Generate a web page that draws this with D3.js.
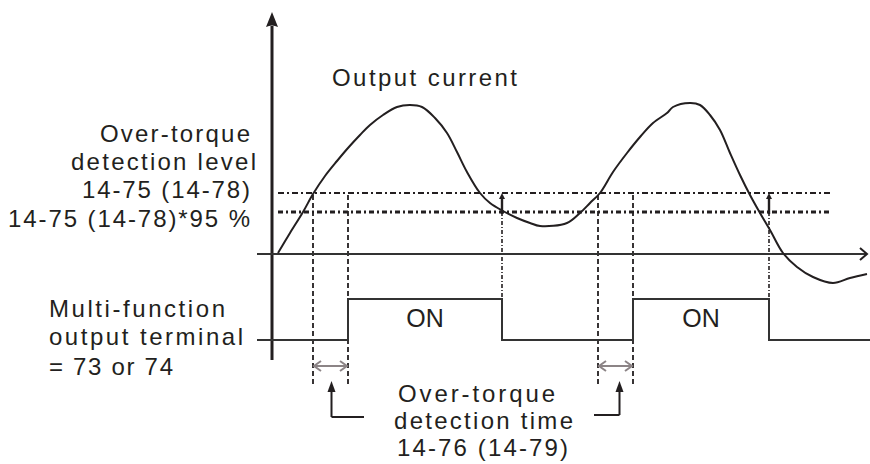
<!DOCTYPE html>
<html>
<head>
<meta charset="utf-8">
<script src="https://cdn.jsdelivr.net/npm/d3@7"></script>
<style>
  html, body { margin: 0; padding: 0; background: #fff; }
  svg { display: block; }
  text { font-family: "Liberation Sans", Arial, sans-serif; fill: #231f20; }
</style>
</head>
<body>
<svg id="chart" width="870" height="464"></svg>
<script>
// ---- data (time units from the vertical axis, current units above the zero line) ----
const curveTime    = [6, 18, 31, 41, 53, 65, 76, 88, 98, 111, 125, 138, 150, 163, 175, 185, 195, 208, 218, 231, 245, 258, 268, 295, 308, 318, 328, 341, 355, 368, 381, 395, 401, 418, 428, 438, 448, 458, 468, 478, 488, 498, 511, 525, 541, 561, 578, 595];
const curveCurrent = [1, 21, 42, 60, 78, 93, 106, 119, 129, 139, 147, 149, 147, 136, 121, 102, 82, 61, 51, 43, 36, 31, 28, 31, 41, 51, 61, 82, 101, 117, 131, 141, 147, 151, 149, 139, 124, 101, 79, 59, 41, 24, 1, -13, -23, -29, -24, -20];
const levelValues  = [61, 42];          // detection level, detection level * 95 %
const detectStart  = [41, 326];         // current crosses the detection level
const pulseStart   = [76, 361];         // output ON after detection time
const pulseEnd     = [230, 497];        // output OFF when current falls below 95 %
const pulseLabel   = ["ON", "ON"];
const titleLabel   = "Output current";
const levelLines   = ["Over-torque", "detection level", "14-75 (14-78)", "14-75 (14-78)*95 %"];
const terminalLines= ["Multi-function", "output terminal", "= 73 or 74"];
const timeLines    = ["Over-torque", "detection time", "14-76 (14-79)"];

// ---- scales ----
const x  = d3.scaleLinear().domain([0, 600]).range([272, 872]);
const yI = d3.scaleLinear().domain([0, 240]).range([254, 14]);
const yS = d3.scaleLinear().domain([0, 1]).range([340, 299]);

const svg = d3.select("#chart");
const ink = "#231f20";

// ---- level lines ----
const levelStyles = [{w: 2, dash: "6,3,2,3"}, {w: 3, dash: "5,3,2,3"}];
levelValues.forEach((v, i) => {
  svg.append("line")
    .attr("x1", x(6)).attr("x2", x(558))
    .attr("y1", yI(v)).attr("y2", yI(v))
    .attr("stroke", ink).attr("stroke-width", levelStyles[i].w)
    .attr("stroke-dasharray", levelStyles[i].dash);
});

// ---- detection-time dashed verticals ----
detectStart.forEach((t, i) => {
  [t, pulseStart[i]].forEach(tt => {
    svg.append("line")
      .attr("x1", x(tt)).attr("x2", x(tt))
      .attr("y1", yI(levelValues[0]) + 2).attr("y2", 385)
      .attr("stroke", ink).attr("stroke-width", 1.8)
      .attr("stroke-dasharray", "5,3");
  });
});

// ---- release verticals (dash-dot) with small arrows between the levels ----
pulseEnd.forEach(t => {
  svg.append("line")
    .attr("x1", x(t)).attr("x2", x(t))
    .attr("y1", yI(levelValues[1])).attr("y2", yS(1))
    .attr("stroke", ink).attr("stroke-width", 1.6)
    .attr("stroke-dasharray", "4,2,1,2");
  svg.append("line")
    .attr("x1", x(t)).attr("x2", x(t))
    .attr("y1", yI(levelValues[1]) + 2).attr("y2", yI(levelValues[0]) + 5)
    .attr("stroke", ink).attr("stroke-width", 2.4);
  svg.append("path")
    .attr("d", `M${x(t) - 3},${yI(levelValues[0]) + 6} L${x(t)},${yI(levelValues[0])} L${x(t) + 3},${yI(levelValues[0]) + 6} Z`)
    .attr("fill", ink);
});

// ---- axes ----
svg.append("line")
  .attr("x1", x(0)).attr("x2", x(0))
  .attr("y1", yI(228)).attr("y2", 360)
  .attr("stroke", ink).attr("stroke-width", 3);
svg.append("path")
  .attr("d", `M${x(0)},${yI(242)} L${x(0) + 6},${yI(227)} Q${x(0)},${yI(230)} ${x(0) - 6},${yI(227)} Z`)
  .attr("fill", ink);

svg.append("line")
  .attr("x1", 257).attr("x2", x(595))
  .attr("y1", yI(0)).attr("y2", yI(0))
  .attr("stroke", "#333").attr("stroke-width", 2);
svg.append("path")
  .attr("d", `M${x(588)},${yI(0) - 6} L${x(595)},${yI(0)} L${x(588)},${yI(0) + 6}`)
  .attr("fill", "none").attr("stroke", ink).attr("stroke-width", 2);

// ---- output current curve ----
const line = d3.line()
  .x((d, i) => x(curveTime[i]))
  .y(d => yI(d))
  .curve(d3.curveCatmullRom.alpha(0.5));
svg.append("path")
  .attr("d", line(curveCurrent))
  .attr("fill", "none").attr("stroke", ink).attr("stroke-width", 2);

// ---- output terminal signal ----
const sig = [];
sig.push([257, yS(0)]);
pulseStart.forEach((s, i) => {
  sig.push([x(s), yS(0)], [x(s), yS(1)], [x(pulseEnd[i]), yS(1)], [x(pulseEnd[i]), yS(0)]);
});
sig.push([870, yS(0)]);
svg.append("path")
  .attr("d", d3.line()(sig))
  .attr("fill", "none").attr("stroke", "#333").attr("stroke-width", 2);

pulseStart.forEach((s, i) => {
  svg.append("text")
    .attr("x", (x(s) + x(pulseEnd[i])) / 2).attr("y", 327)
    .attr("text-anchor", "middle")
    .attr("font-size", 25)
    .text(pulseLabel[i]);
});

// ---- detection time double arrows ----
detectStart.forEach((t, i) => {
  const a = x(t) + 1, b = x(pulseStart[i]) - 1, yy = 366;
  svg.append("path")
    .attr("d", `M${a},${yy} L${b},${yy} M${a + 7},${yy - 5} L${a},${yy} L${a + 7},${yy + 5} M${b - 7},${yy - 5} L${b},${yy} L${b - 7},${yy + 5}`)
    .attr("fill", "none").attr("stroke", "#8c8486").attr("stroke-width", 2);
});

// ---- L-shaped pointer arrows ----
const pointerX = [(detectStart[0] + pulseStart[0]) / 2 + 1, (detectStart[1] + pulseStart[1]) / 2 + 4];
const pointerEnd = [x(pulseStart[0]) + 16, x(detectStart[1]) - 4];
const pointerY = [417, 415];
pointerX.forEach((p, i) => {
  const px = x(p);
  svg.append("path")
    .attr("d", `M${px},${pointerY[i]} L${px},${388} M${px},${pointerY[i]} L${pointerEnd[i]},${pointerY[i]}`)
    .attr("fill", "none").attr("stroke", ink).attr("stroke-width", 2);
  svg.append("path")
    .attr("d", `M${px},${381} L${px + 4},${392} L${px - 4},${392} Z`)
    .attr("fill", ink);
});

// ---- text ----
function stretched(str, x0, y0, len, size) {
  svg.append("text")
    .attr("x", x0).attr("y", y0)
    .attr("font-size", size)
    .attr("textLength", len)
    .attr("lengthAdjust", "spacing")
    .text(str);
}
stretched(titleLabel, 332, 86, 185, 24);

const lvX = [100, 71, 82, 8], lvLen = [150, 185, 168, 242], lvY = [142, 170, 198, 227];
levelLines.forEach((s, i) => stretched(s, lvX[i], lvY[i], lvLen[i], 24));

const tmLen = [176, 194, 124], tmY = [317, 345, 375];
terminalLines.forEach((s, i) => stretched(s, 49, tmY[i], tmLen[i], 24));

const tiX = [398, 394, 397], tiLen = [157, 179, 171], tiY = [402, 429, 456];
timeLines.forEach((s, i) => stretched(s, tiX[i], tiY[i], tiLen[i], 24));
</script>
</body>
</html>
